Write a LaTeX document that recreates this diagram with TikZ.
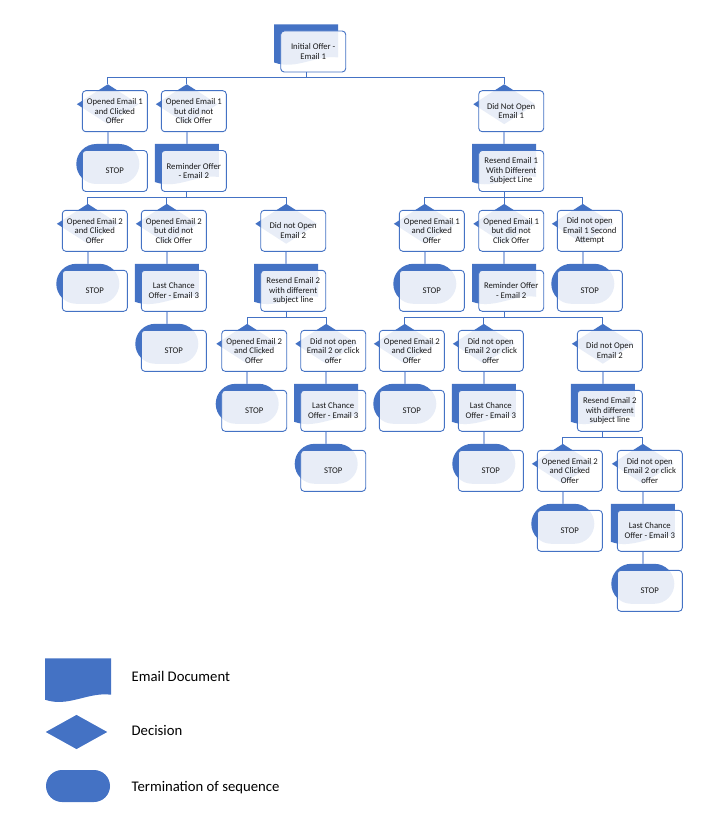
\documentclass[tikz,border=0pt]{standalone}
\usepackage{fontspec}
\setmainfont{Carlito}
\usetikzlibrary{calc,shapes.geometric}
\definecolor{eblue}{HTML}{4472C4}
\definecolor{elight}{HTML}{A3B8E2}
\definecolor{etext}{HTML}{1A1A1A}
\tikzset{
  decshape/.style={diamond, fill=eblue, draw=none, inner sep=0pt, minimum width=62pt, minimum height=40pt},
  termshape/.style={rectangle, fill=eblue, draw=none, rounded corners=20pt, inner sep=0pt, minimum width=63pt, minimum height=40pt},
  docshape/.style={rectangle, draw=none, inner sep=0pt, minimum width=64pt, minimum height=40pt},
  ebox/.style={rectangle, rounded corners=3.5pt, draw=eblue, line width=0.9pt, fill=white, fill opacity=0.88, text opacity=1, minimum width=65pt, minimum height=41pt, inner sep=0pt, align=center, text=etext, font=\fontsize{8.7}{9.6}\selectfont},
  busline/.style={draw=eblue, line width=0.9pt, line cap=rect},
  oneline/.style={draw=elight, line width=1.6pt},
  legtext/.style={anchor=base west, inner sep=0pt, text=black, font=\fontsize{14.7}{17}\selectfont},
}
\newcommand{\docfill}[3]{%
  \fill[eblue] ($(#1)+(-#2,-#3)$) -- ($(#1)+(#2,-#3)$) -- ($(#1)+(#2,#3-7)$)
    .. controls ($(#1)+(0.3*#2,#3-10)$) and ($(#1)+(-0.3*#2,#3+6)$) .. ($(#1)+(-#2,#3-2)$) -- cycle;}
\newcommand{\flownode}[5]{%
  \node[#2] (#1) at (#3+25.5,#4+13.5) {};
  \node[ebox] (#1-b) at (#3+32.5,#4+20.5) {#5};}
\newcommand{\flowdoc}[4]{%
  \node[docshape] (#1) at (#2+25.5,#3+13.5) {};
  \docfill{#1}{32}{20}
  \node[ebox] (#1-b) at (#2+32.5,#3+20.5) {#4};}
\newcommand{\fanout}[4]{%
  \coordinate (#1-bus) at ($(#1 |- #1-b.south)+(0,5.5)$);
  \draw[busline] (#1 |- #1-b.south) -- (#1-bus);
  \draw[busline] (#1-bus -| #2) -- (#1-bus -| #3);
  \foreach \ch in {#4} {\draw[busline] (#1-bus -| \ch) -- (\ch.north);}}
\newcommand{\onelink}[2]{\draw[oneline] (#1 |- #1-b.south) -- (#2.north);}
\begin{document}
\begin{tikzpicture}[x=1pt,y=-1pt]
\useasboundingbox (0,0) rectangle (704,813);
% level 0
\flowdoc{n0}{280.7}{31}{Initial Offer -\\Email 1}
% level 1
\flownode{a1}{decshape}{82.3}{90.7}{Opened Email 1\\and Clicked\\Offer}
\flownode{a2}{decshape}{161.3}{90.7}{Opened Email 1\\but did not\\Click Offer}
\flownode{a3}{decshape}{478.7}{90.7}{Did Not Open\\Email 1}
% level 2
\flownode{a1s}{termshape}{82.3}{150.5}{STOP}
\flowdoc{a2r}{161.3}{150.5}{Reminder Offer\\- Email 2}
\flowdoc{a3r}{478.7}{150.5}{Resend Email 1\\With Different\\Subject Line}
% level 3
\flownode{b1}{decshape}{62.3}{210.3}{Opened Email 2\\and Clicked\\Offer}
\flownode{b2}{decshape}{141.3}{210.3}{Opened Email 2\\but did not\\Click Offer}
\flownode{b3}{decshape}{260.7}{210.3}{Did not Open\\Email 2}
\flownode{c1}{decshape}{399.3}{210.3}{Opened Email 1\\and Clicked\\Offer}
\flownode{c2}{decshape}{478.7}{210.3}{Opened Email 1\\but did not\\Click Offer}
\flownode{c3}{decshape}{557.3}{210.3}{Did not open\\Email 1 Second\\Attempt}
% level 4
\flownode{b1s}{termshape}{62.3}{270.3}{STOP}
\flowdoc{b2l}{141.3}{270.3}{Last Chance\\Offer - Email 3}
\flowdoc{b3r}{260.7}{270.3}{Resend Email 2\\with different\\subject line}
\flownode{c1s}{termshape}{399.3}{270.3}{STOP}
\flowdoc{c2r}{478.7}{270.3}{Reminder Offer\\- Email 2}
\flownode{c3s}{termshape}{557.3}{270.3}{STOP}
% level 5
\flownode{b2s}{termshape}{141.3}{330.3}{STOP}
\flownode{d1}{decshape}{221.7}{330.3}{Opened Email 2\\and Clicked\\Offer}
\flownode{d2}{decshape}{300.7}{330.3}{Did not open\\Email 2 or click\\offer}
\flownode{e1}{decshape}{379.3}{330.3}{Opened Email 2\\and Clicked\\Offer}
\flownode{e2}{decshape}{458.3}{330.3}{Did not open\\Email 2 or click\\offer}
\flownode{e3}{decshape}{577.3}{330.3}{Did not Open\\Email 2}
% level 6
\flownode{d1s}{termshape}{221.7}{390.3}{STOP}
\flowdoc{d2l}{300.7}{390.3}{Last Chance\\Offer - Email 3}
\flownode{e1s}{termshape}{379.3}{390.3}{STOP}
\flowdoc{e2l}{458.3}{390.3}{Last Chance\\Offer - Email 3}
\flowdoc{e3r}{577.3}{390.3}{Resend Email 2\\with different\\subject line}
% level 7
\flownode{d2s}{termshape}{300.7}{450.3}{STOP}
\flownode{e2s}{termshape}{458.3}{450.3}{STOP}
\flownode{f1}{decshape}{537.3}{450.3}{Opened Email 2\\and Clicked\\Offer}
\flownode{f2}{decshape}{617.3}{450.3}{Did not open\\Email 2 or click\\offer}
% level 8
\flownode{f1s}{termshape}{537.3}{510.3}{STOP}
\flowdoc{f2l}{617.3}{510.3}{Last Chance\\Offer - Email 3}
% level 9
\flownode{f2s}{termshape}{617.3}{570.3}{STOP}
% fan-out connectors
\fanout{n0}{a1}{a3}{a1,a2,a3}
\fanout{a2r}{b1}{b3}{b1,b2,b3}
\fanout{a3r}{c1}{c3}{c1,c2,c3}
\fanout{b3r}{d1}{d2}{d1,d2}
\fanout{c2r}{e1}{e3}{e1,e2,e3}
\fanout{e3r}{f1}{f2}{f1,f2}
% single connectors
\onelink{a1}{a1s}
\onelink{a2}{a2r}
\onelink{a3}{a3r}
\onelink{b1}{b1s}
\onelink{b2}{b2l}
\onelink{b2l}{b2s}
\onelink{b3}{b3r}
\onelink{c1}{c1s}
\onelink{c2}{c2r}
\onelink{c3}{c3s}
\onelink{d1}{d1s}
\onelink{d2}{d2l}
\onelink{d2l}{d2s}
\onelink{e1}{e1s}
\onelink{e2}{e2l}
\onelink{e2l}{e2s}
\onelink{e3}{e3r}
\onelink{f1}{f1s}
\onelink{f2}{f2l}
\onelink{f2l}{f2s}
% legend
\coordinate (lg1) at (78,680);
\docfill{lg1}{33}{21.7}
\node[decshape, minimum width=61.6pt, minimum height=34.3pt] (lg2) at (76.5,732) {};
\node[termshape, minimum width=64pt, minimum height=32pt, rounded corners=16pt] (lg3) at (78,786) {};
\node[legtext] (lt1) at (131.5,681) {Email Document};
\node[legtext] (lt2) at (131.5,735.8) {Decision};
\node[legtext] (lt3) at (131.5,791) {Termination of sequence};
\end{tikzpicture}
\end{document}
